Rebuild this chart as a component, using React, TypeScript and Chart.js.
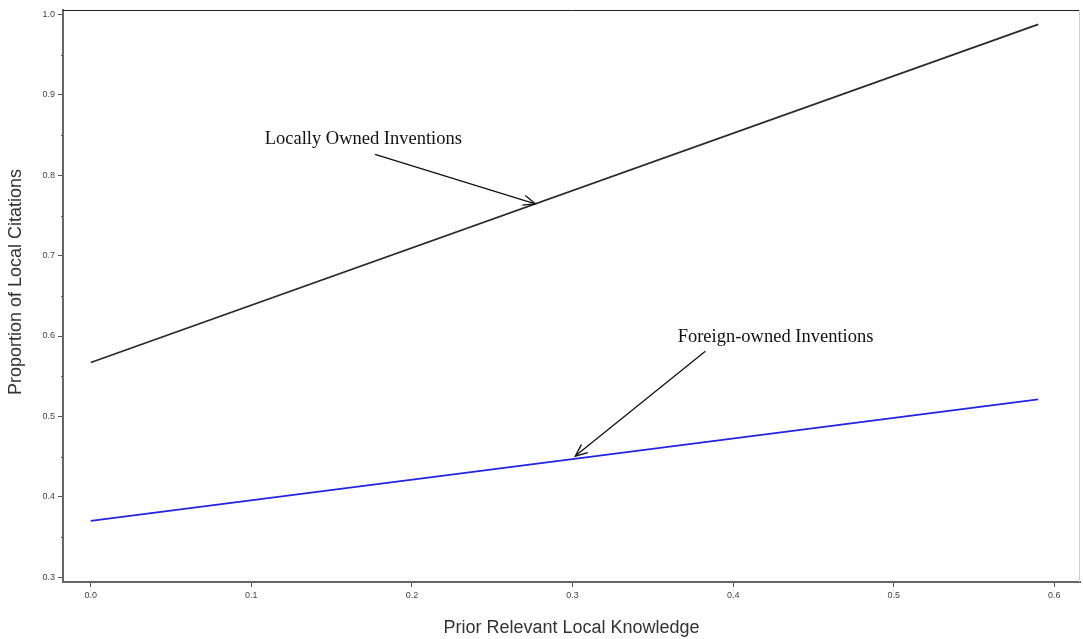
import React, { useEffect, useRef } from "react";
import { Chart, registerables } from "chart.js";

Chart.register(...registerables);

const knowledgeX = [0, 0.59];
const locallyOwned = [0.567, 0.988];
const foreignOwned = [0.37, 0.521];
const yTicks = [0.3, 0.4, 0.5, 0.6, 0.7, 0.8, 0.9, 1.0];
const yMinorTicks = [0.35, 0.45, 0.55, 0.65, 0.75, 0.85, 0.95];
const xTicks = [0.0, 0.1, 0.2, 0.3, 0.4, 0.5, 0.6];
const yTitle = "Proportion of Local Citations";
const xTitle = "Prior Relevant Local Knowledge";
const annotationLabels = ["Locally Owned Inventions", "Foreign-owned Inventions"];
const labelAnchors = [
  [0.1697, 0.8445],
  [0.4264, 0.598],
];
const arrowFrom = [
  [0.177, 0.826],
  [0.3827, 0.581],
];
const arrowTo = [
  [0.2768, 0.7645],
  [0.3017, 0.4505],
];

const annotPlugin = {
  id: "annot",
  afterDraw(chart: any) {
    const ctx = chart.ctx;
    const xs = chart.scales.x;
    const ys = chart.scales.y;
    const area = chart.chartArea;
    ctx.save();
    ctx.strokeStyle = "#222";
    ctx.lineWidth = 1;
    ctx.beginPath();
    ctx.moveTo(area.left, area.top + 0.5);
    ctx.lineTo(area.right, area.top + 0.5);
    ctx.stroke();
    ctx.strokeStyle = "#ccc";
    ctx.beginPath();
    ctx.moveTo(area.right - 0.5, area.top);
    ctx.lineTo(area.right - 0.5, area.bottom);
    ctx.stroke();
    ctx.strokeStyle = "#555";
    ctx.lineWidth = 1;
    yMinorTicks.forEach((v) => {
      const py = Math.round(ys.getPixelForValue(v)) + 0.5;
      ctx.beginPath();
      ctx.moveTo(area.left - 2, py);
      ctx.lineTo(area.left, py);
      ctx.stroke();
    });
    // y title (slightly above the vertical centre, as in the reference)
    ctx.save();
    ctx.translate(16, 282);
    ctx.rotate(-Math.PI / 2);
    ctx.font = '18px "Liberation Sans", Arial, sans-serif';
    ctx.fillStyle = "#333";
    ctx.textAlign = "center";
    ctx.textBaseline = "middle";
    ctx.fillText(yTitle, 0, 0);
    ctx.restore();

    ctx.font = '18.5px "Liberation Serif", "Times New Roman", serif';
    ctx.fillStyle = "#111";
    ctx.textAlign = "center";
    ctx.textBaseline = "middle";
    annotationLabels.forEach((t, i) => {
      ctx.fillText(t, xs.getPixelForValue(labelAnchors[i][0]), ys.getPixelForValue(labelAnchors[i][1]));
      const x1 = xs.getPixelForValue(arrowFrom[i][0]);
      const y1 = ys.getPixelForValue(arrowFrom[i][1]);
      const x2 = xs.getPixelForValue(arrowTo[i][0]);
      const y2 = ys.getPixelForValue(arrowTo[i][1]);
      ctx.strokeStyle = "#111";
      ctx.lineWidth = 1.3;
      ctx.beginPath();
      ctx.moveTo(x1, y1);
      ctx.lineTo(x2, y2);
      ctx.stroke();
      const ang = Math.atan2(y2 - y1, x2 - x1);
      const L = 13;
      const spread = 0.4;
      ctx.beginPath();
      ctx.moveTo(x2 - L * Math.cos(ang - spread), y2 - L * Math.sin(ang - spread));
      ctx.lineTo(x2, y2);
      ctx.lineTo(x2 - L * Math.cos(ang + spread), y2 - L * Math.sin(ang + spread));
      ctx.stroke();
    });
    ctx.restore();
  },
};

export default function App() {
  const ref = useRef<HTMLCanvasElement>(null);
  useEffect(() => {
    if (!ref.current) return;
    const chart = new Chart(ref.current, {
      type: "line",
      data: {
        datasets: [
          {
            label: "Locally Owned Inventions",
            data: knowledgeX.map((x, i) => ({ x, y: locallyOwned[i] })),
            borderColor: "#2a2a2a",
            borderWidth: 1.8,
            pointRadius: 0,
            fill: false,
          },
          {
            label: "Foreign-owned Inventions",
            data: knowledgeX.map((x, i) => ({ x, y: foreignOwned[i] })),
            borderColor: "#2323e0",
            borderWidth: 1.8,
            pointRadius: 0,
            fill: false,
          },
        ],
      },
      options: {
        animation: false,
        responsive: false,
        maintainAspectRatio: false,
        layout: { padding: { top: 10, right: 3, left: 0, bottom: 0 } },
        plugins: { legend: { display: false }, tooltip: { enabled: false } },
        scales: {
          x: {
            type: "linear",
            min: -0.0173,
            max: 0.616,
            afterBuildTicks: (s: any) => {
              s.ticks = xTicks.map((v) => ({ value: v }));
            },
            afterFit: (s: any) => {
              s.height = 57;
            },
            ticks: {
              font: { family: "Liberation Sans, Arial", size: 9 },
              color: "#444",
              padding: 3,
              maxRotation: 0,
              callback: (v: any) => Number(v).toFixed(1),
            },
            grid: { drawOnChartArea: false, drawTicks: true, tickLength: 5, color: "#555" },
            border: { display: true, color: "#666", width: 2 },
            title: {
              display: true,
              text: xTitle,
              font: { family: "Liberation Sans, Arial", size: 18 },
              color: "#333",
              padding: { top: 0, bottom: 0 },
            },
          },
          y: {
            type: "linear",
            min: 0.2938,
            max: 1.0058,
            afterBuildTicks: (s: any) => {
              s.ticks = yTicks.map((v) => ({ value: v }));
            },
            afterFit: (s: any) => {
              s.width = 63;
            },
            ticks: {
              font: { family: "Liberation Sans, Arial", size: 9 },
              color: "#444",
              padding: 3,
              callback: (v: any) => Number(v).toFixed(1),
            },
            grid: { drawOnChartArea: false, drawTicks: true, tickLength: 5, color: "#555" },
            border: { display: true, color: "#666", width: 2 },
          },
        },
      },
      plugins: [annotPlugin],
    });
    return () => chart.destroy();
  }, []);
  return (
    <div style={{ position: "fixed", left: 0, top: 0, width: 1083, height: 639, background: "#fff" }}>
      <canvas ref={ref} width={1083} height={639} style={{ width: 1083, height: 639 }} />
    </div>
  );
}
